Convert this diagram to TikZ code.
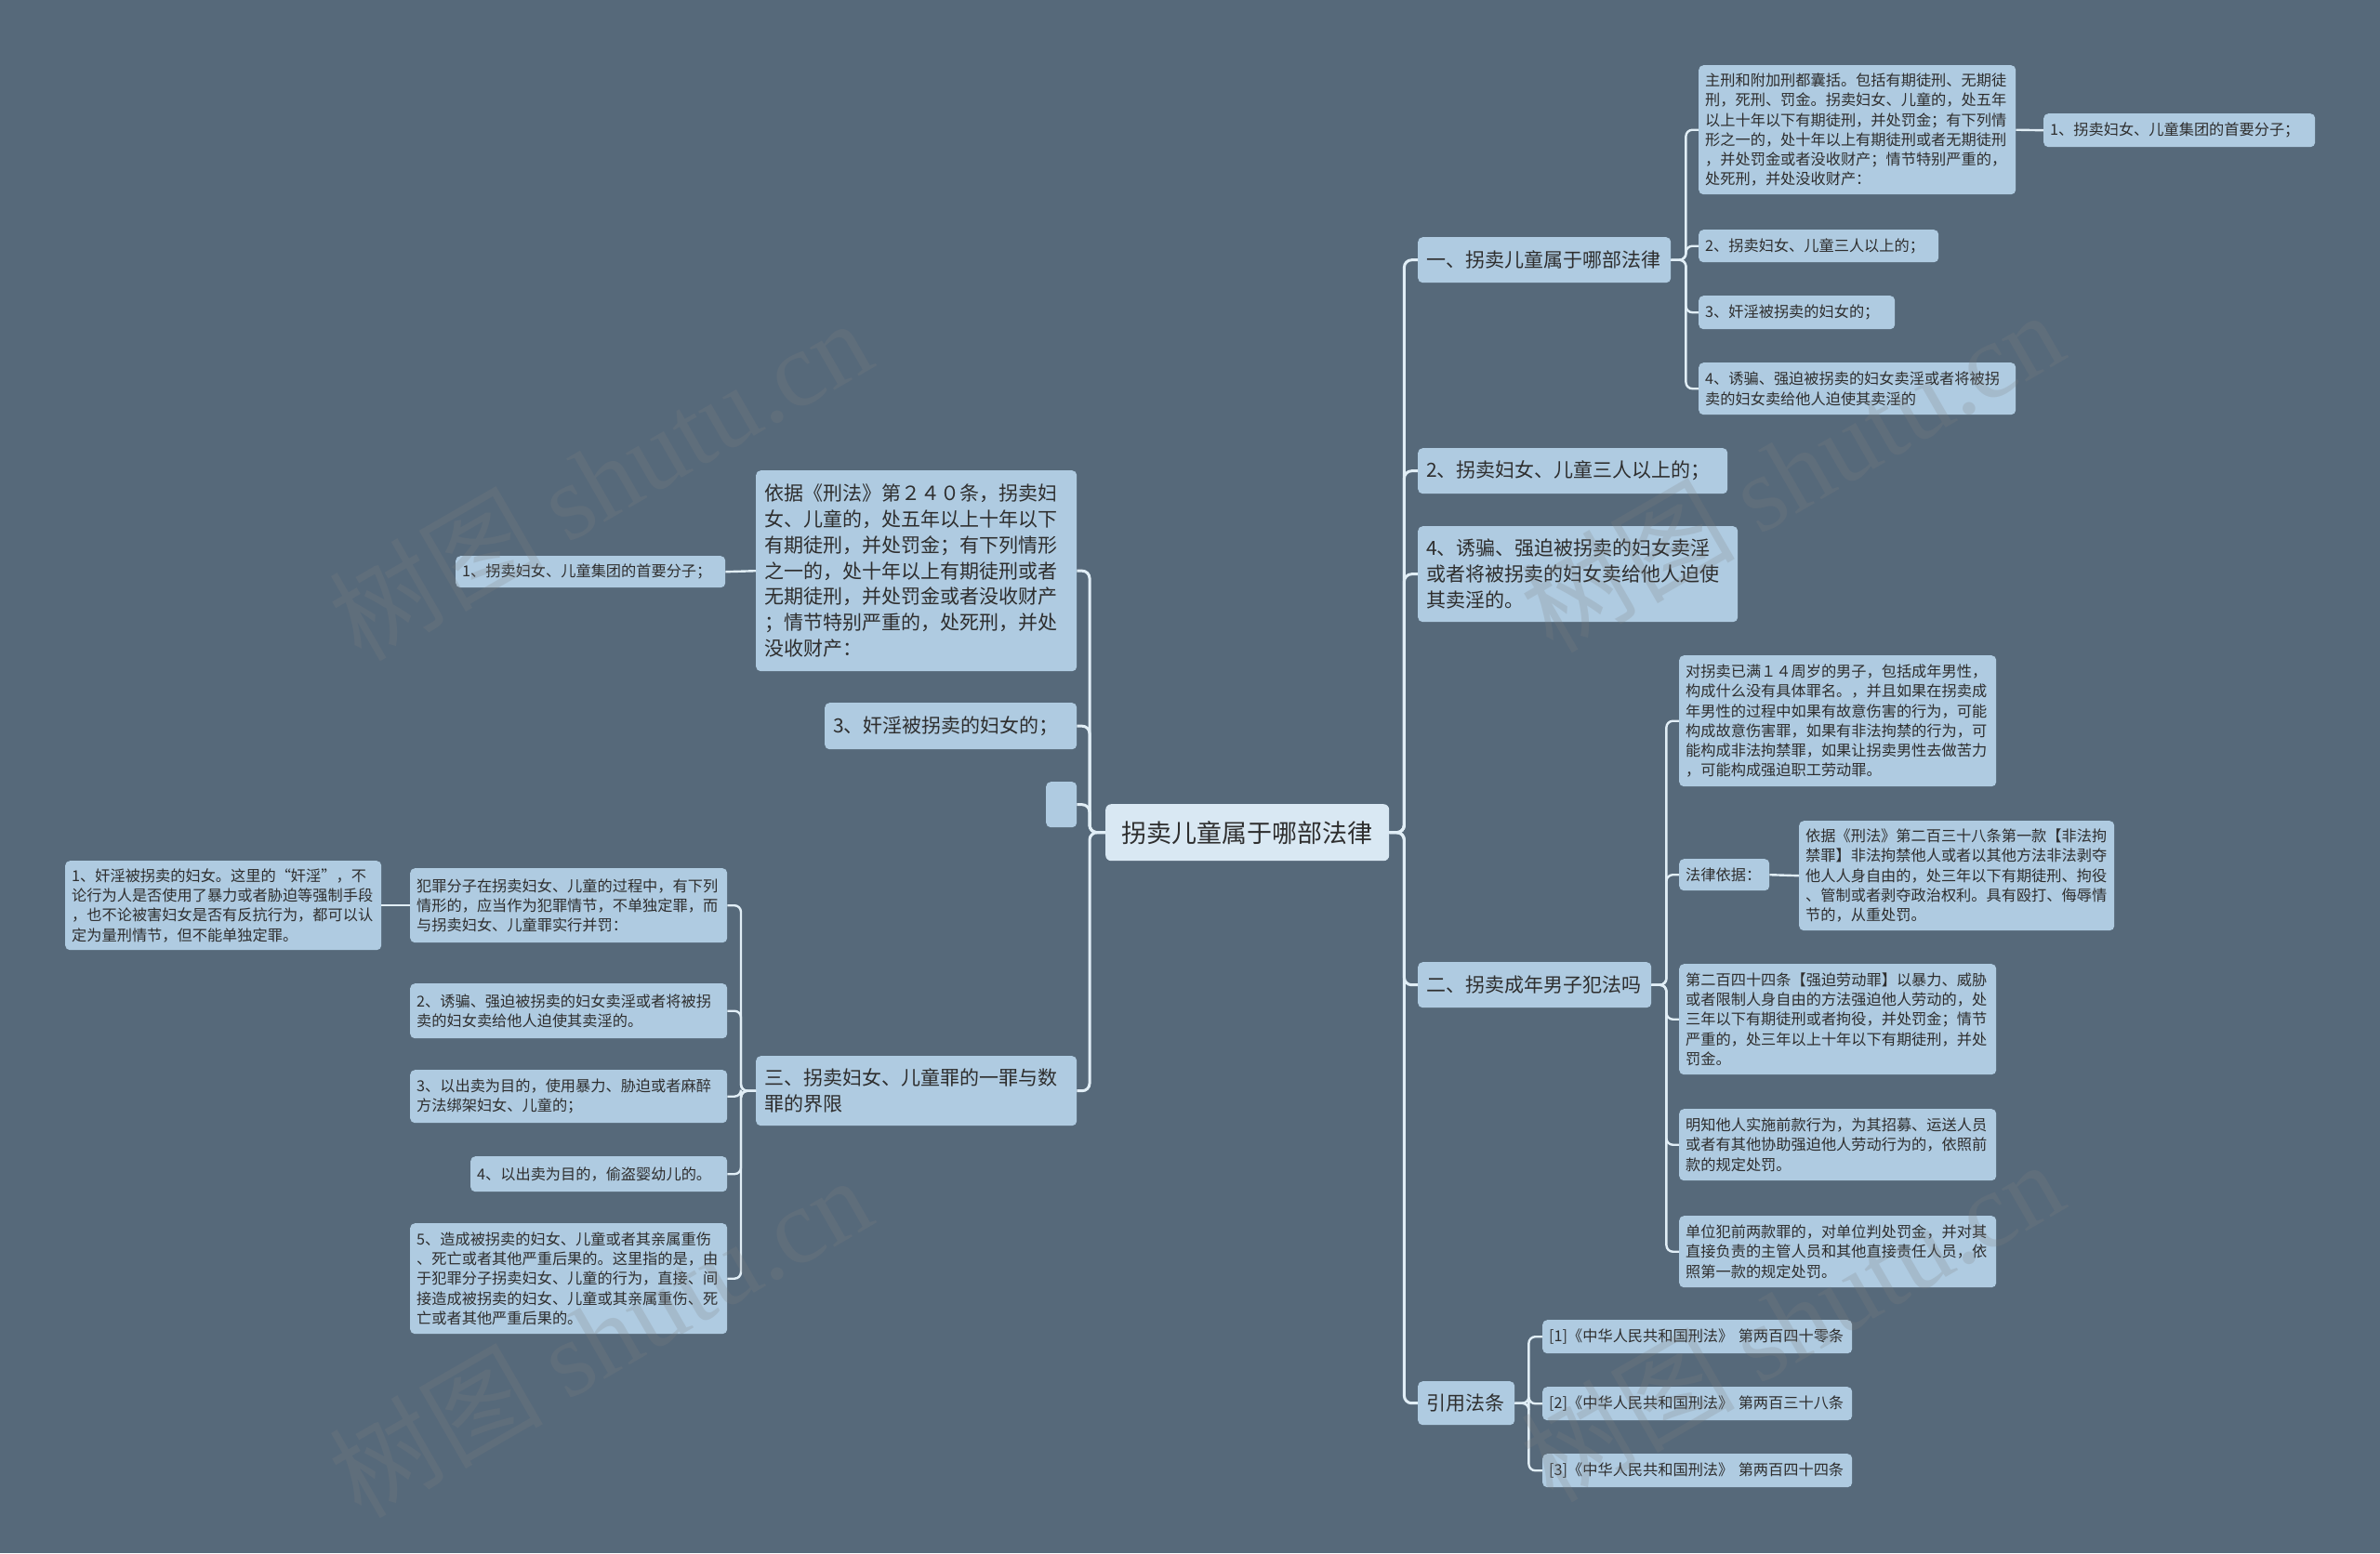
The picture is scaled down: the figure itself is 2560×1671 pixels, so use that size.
\documentclass[tikz,border=0pt]{standalone}
\usepackage{fontspec}
\setmainfont{Noto Sans CJK SC}
\newfontfamily\wmserif{Liberation Serif}
\usetikzlibrary{positioning}
\definecolor{bgcol}{HTML}{56697A}
\definecolor{nodefill}{HTML}{AFCBE1}
\definecolor{rootfill}{HTML}{D9E8F3}
\definecolor{linecol}{HTML}{E1EEF6}
\definecolor{textcol}{HTML}{2E2E2E}
\tikzset{
    every node/.style={text=textcol},
    rootbox/.style={fill=rootfill, rounded corners=6pt, anchor=north west, align=center,
        inner xsep=12pt, inner ysep=0pt, font=\fontsize{27}{32}\selectfont},
    mainbox/.style={fill=nodefill, rounded corners=5pt, anchor=north west, align=left,
        inner xsep=9pt, inner ysep=0pt, font=\fontsize{21}{27.8}\selectfont},
    leafbox/.style={fill=nodefill, rounded corners=5pt, anchor=north west, align=left,
        inner xsep=7pt, inner ysep=0pt, font=\fontsize{16.2}{21.2}\selectfont},
    link/.style={draw=linecol, line width=3pt, rounded corners=8pt},
    sublink/.style={draw=linecol, line width=2.4pt, rounded corners=7pt},
    watermark/.style={text=gray, opacity=0.22, rotate=30, font=\fontsize{115}{120}\selectfont}
}

\begin{document}
\begin{tikzpicture}[x=1pt, y=-1pt]
\fill[bgcol] (0,0) rectangle (2560,1671);
\useasboundingbox (0,0) rectangle (2560,1671);

% root
\node[rootbox, text width=281pt, minimum height=61pt] (root) at (1189,865) {拐卖儿童属于哪部法律};

% right side
\node[mainbox, text width=254pt, minimum height=49pt] (r1) at (1525,255) {一、拐卖儿童属于哪部法律};
\node[mainbox, text width=315pt, minimum height=49pt] (r2) at (1525,482) {2、拐卖妇女、儿童三人以上的；};
\node[mainbox, text width=326pt, minimum height=103pt] (r3) at (1525,566) {4、诱骗、强迫被拐卖的妇女卖淫\\或者将被拐卖的妇女卖给他人迫使\\其卖淫的。};
\node[mainbox, text width=233pt, minimum height=49pt] (r4) at (1525,1035) {二、拐卖成年男子犯法吗};
\node[mainbox, text width=86pt, minimum height=47pt] (r5) at (1525,1486) {引用法条};

\node[leafbox, text width=327pt, minimum height=139pt] (r1a) at (1827,70) {主刑和附加刑都囊括。包括有期徒刑、无期徒\\刑，死刑、罚金。拐卖妇女、儿童的，处五年\\以上十年以下有期徒刑，并处罚金；有下列情\\形之一的，处十年以上有期徒刑或者无期徒刑\\，并处罚金或者没收财产；情节特别严重的，\\处死刑，并处没收财产：};
\node[leafbox, text width=278pt, minimum height=36pt] (r1aa) at (2198,122) {1、拐卖妇女、儿童集团的首要分子；};
\node[leafbox, text width=244pt, minimum height=35pt] (r1b) at (1827,247) {2、拐卖妇女、儿童三人以上的；};
\node[leafbox, text width=197pt, minimum height=36pt] (r1c) at (1827,318) {3、奸淫被拐卖的妇女的；};
\node[leafbox, text width=327pt, minimum height=56pt] (r1d) at (1827,390) {4、诱骗、强迫被拐卖的妇女卖淫或者将被拐\\卖的妇女卖给他人迫使其卖淫的};

\node[leafbox, text width=327pt, minimum height=141pt] (r4a) at (1806,705) {对拐卖已满１４周岁的男子，包括成年男性，\\构成什么没有具体罪名。，并且如果在拐卖成\\年男性的过程中如果有故意伤害的行为，可能\\构成故意伤害罪，如果有非法拘禁的行为，可\\能构成非法拘禁罪，如果让拐卖男性去做苦力\\，可能构成强迫职工劳动罪。};
\node[leafbox, text width=83pt, minimum height=34pt] (r4b) at (1806,924) {法律依据：};
\node[leafbox, text width=325pt, minimum height=118pt] (r4bb) at (1935,883) {依据《刑法》第二百三十八条第一款【非法拘\\禁罪】非法拘禁他人或者以其他方法非法剥夺\\他人人身自由的，处三年以下有期徒刑、拘役\\、管制或者剥夺政治权利。具有殴打、侮辱情\\节的，从重处罚。};
\node[leafbox, text width=327pt, minimum height=119pt] (r4c) at (1806,1037) {第二百四十四条【强迫劳动罪】以暴力、威胁\\或者限制人身自由的方法强迫他人劳动的，处\\三年以下有期徒刑或者拘役，并处罚金；情节\\严重的，处三年以上十年以下有期徒刑，并处\\罚金。};
\node[leafbox, text width=327pt, minimum height=77pt] (r4d) at (1806,1193) {明知他人实施前款行为，为其招募、运送人员\\或者有其他协助强迫他人劳动行为的，依照前\\款的规定处罚。};
\node[leafbox, text width=327pt, minimum height=77pt] (r4e) at (1806,1308) {单位犯前两款罪的，对单位判处罚金，并对其\\直接负责的主管人员和其他直接责任人员，依\\照第一款的规定处罚。};

\node[leafbox, text width=319pt, minimum height=36pt] (r5a) at (1659,1420) {[1]《中华人民共和国刑法》 第两百四十零条};
\node[leafbox, text width=319pt, minimum height=36pt] (r5b) at (1659,1492) {[2]《中华人民共和国刑法》 第两百三十八条};
\node[leafbox, text width=319pt, minimum height=36pt] (r5c) at (1659,1564) {[3]《中华人民共和国刑法》 第两百四十四条};

% left side
\node[mainbox, text width=327pt, minimum height=216pt] (l1) at (813,506) {依据《刑法》第２４０条，拐卖妇\\女、儿童的，处五年以上十年以下\\有期徒刑，并处罚金；有下列情形\\之一的，处十年以上有期徒刑或者\\无期徒刑，并处罚金或者没收财产\\；情节特别严重的，处死刑，并处\\没收财产：};
\node[mainbox, text width=253pt, minimum height=50pt] (l2) at (887,756) {3、奸淫被拐卖的妇女的；};
\node[mainbox, text width=15pt, minimum height=49pt] (l3) at (1125,841) {};
\node[mainbox, text width=327pt, minimum height=75pt] (l4) at (813,1136) {三、拐卖妇女、儿童罪的一罪与数\\罪的界限};

\node[leafbox, text width=276pt, minimum height=34pt] (l1a) at (490,598) {1、拐卖妇女、儿童集团的首要分子；};
\node[leafbox, text width=327pt, minimum height=80pt] (l4a) at (441,934) {犯罪分子在拐卖妇女、儿童的过程中，有下列\\情形的，应当作为犯罪情节，不单独定罪，而\\与拐卖妇女、儿童罪实行并罚：};
\node[leafbox, text width=326pt, minimum height=96pt] (l4aa) at (70,926) {1、奸淫被拐卖的妇女。这里的“奸淫”，不\\论行为人是否使用了暴力或者胁迫等强制手段\\，也不论被害妇女是否有反抗行为，都可以认\\定为量刑情节，但不能单独定罪。};
\node[leafbox, text width=327pt, minimum height=59pt] (l4b) at (441,1058) {2、诱骗、强迫被拐卖的妇女卖淫或者将被拐\\卖的妇女卖给他人迫使其卖淫的。};
\node[leafbox, text width=327pt, minimum height=57pt] (l4c) at (441,1151) {3、以出卖为目的，使用暴力、胁迫或者麻醉\\方法绑架妇女、儿童的；};
\node[leafbox, text width=262pt, minimum height=38pt] (l4d) at (506,1244) {4、以出卖为目的，偷盗婴幼儿的。};
\node[leafbox, text width=327pt, minimum height=119pt] (l4e) at (441,1316) {5、造成被拐卖的妇女、儿童或者其亲属重伤\\、死亡或者其他严重后果的。这里指的是，由\\于犯罪分子拐卖妇女、儿童的行为，直接、间\\接造成被拐卖的妇女、儿童或其亲属重伤、死\\亡或者其他严重后果的。};

% connectors
\foreach \n in {r1,r2,r3,r4,r5}
    \draw[link] (root.east) -- ++(16,0) |- (\n.west);
\foreach \n in {l1,l2,l3,l4}
    \draw[link] (root.west) -- ++(-17,0) |- (\n.east);
\foreach \n in {r1a,r1b,r1c,r1d}
    \draw[sublink] (r1.east) -- ++(16,0) |- (\n.west);
\foreach \n in {r4a,r4b,r4c,r4d,r4e}
    \draw[sublink] (r4.east) -- ++(16,0) |- (\n.west);
\foreach \n in {r5a,r5b,r5c}
    \draw[sublink] (r5.east) -- ++(15,0) |- (\n.west);
\foreach \n in {l4a,l4b,l4c,l4d,l4e}
    \draw[sublink] (l4.west) -- ++(-16,0) |- (\n.east);
\draw[sublink] (r1a.east) -- (r1aa.west);
\draw[sublink] (r4b.east) -- (r4bb.west);
\draw[sublink] (l1.west) -- (l1a.east);
\draw[sublink] (l4a.west) -- (l4aa.east);

% watermarks
\node[watermark] (wm1) at (645,515) {树图 {\wmserif shutu.cn}};
\node[watermark] (wm2) at (1927,506) {树图 {\wmserif shutu.cn}};
\node[watermark] (wm3) at (645,1437) {树图 {\wmserif shutu.cn}};
\node[watermark] (wm4) at (1927,1420) {树图 {\wmserif shutu.cn}};

\end{tikzpicture}
\end{document}
